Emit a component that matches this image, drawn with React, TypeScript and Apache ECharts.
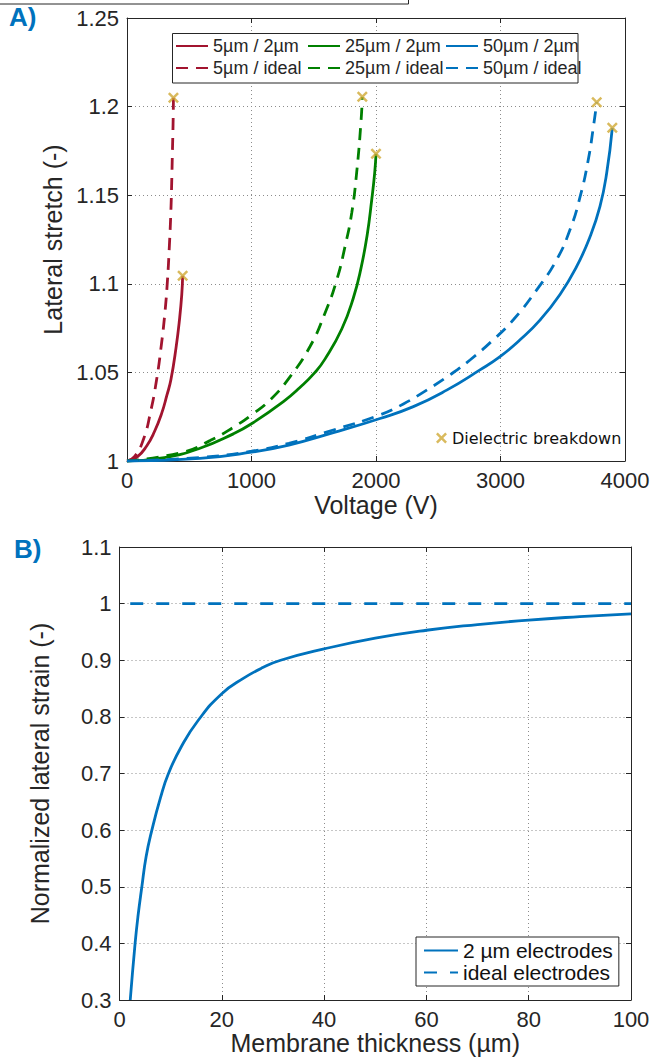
import React, { useEffect, useRef } from "react";
import * as echarts from "echarts";

// ---- Panel A data: voltage (V) vs lateral stretch (-) ----
const red2: [number, number][] = [
  [0, 1.0], [80, 1.0022], [158, 1.0085], [220, 1.0165], [279, 1.027], [320, 1.037],
  [353, 1.046], [394, 1.064], [422, 1.08], [440, 1.094], [447, 1.1045],
];
const redIdeal: [number, number][] = [
  [0, 1.0], [60, 1.0025], [131, 1.012], [190, 1.028], [238, 1.046], [275, 1.065],
  [305, 1.084], [325, 1.102], [340, 1.121], [352, 1.14], [359, 1.157], [365, 1.175],
  [370, 1.19], [373, 1.205],
];
const green2: [number, number][] = [
  [0, 1.0], [300, 1.0019], [586, 1.0072], [854, 1.0153], [1000, 1.021], [1256, 1.0335],
  [1389, 1.0415], [1510, 1.05], [1590, 1.0575], [1725, 1.0745], [1818, 1.092],
  [1880, 1.109], [1930, 1.128], [1965, 1.147], [1990, 1.163], [2000, 1.1734],
];
const greenIdeal: [number, number][] = [
  [0, 1.0], [452, 1.005], [667, 1.0115], [854, 1.019], [1000, 1.026], [1150, 1.0345],
  [1309, 1.0475], [1470, 1.0646], [1590, 1.0834], [1684, 1.102], [1751, 1.121],
  [1805, 1.14], [1845, 1.163], [1880, 1.192], [1890, 1.2055],
];
const blue2: [number, number][] = [
  [0, 1.0], [586, 1.0015], [1000, 1.005], [1300, 1.009], [1657, 1.016], [2032, 1.024],
  [2300, 1.0307], [2568, 1.04], [2835, 1.0514], [2996, 1.0589], [3157, 1.0684],
  [3317, 1.0795], [3478, 1.094], [3612, 1.1098], [3719, 1.1265], [3799, 1.1437],
  [3853, 1.1625], [3898, 1.188],
];
const blueIdeal: [number, number][] = [
  [0, 1.0], [586, 1.002], [1000, 1.0055], [1300, 1.01], [1657, 1.0175], [2032, 1.026],
  [2220, 1.0322], [2407, 1.04], [2594, 1.0486], [2755, 1.057], [2942, 1.0684],
  [3103, 1.0797], [3291, 1.0966], [3451, 1.1136], [3558, 1.1305], [3639, 1.149],
  [3705, 1.17], [3745, 1.188], [3773, 1.2024],
];
const breakdown: [number, number][] = [
  [373, 1.205], [447, 1.1045], [1890, 1.2055], [2000, 1.1734], [3773, 1.2024], [3898, 1.188],
];

// ---- Panel B data: membrane thickness (µm) vs normalized lateral strain (-) ----
const thickness = [2.1, 3.05, 3.6, 4.37, 5.2, 6.33, 8, 9.57, 12, 15.4, 20, 24.2, 28, 31.5, 40, 50, 60, 70, 80, 90, 100];
const strain2um = [0.3, 0.4, 0.447, 0.5, 0.553, 0.6, 0.657, 0.7, 0.746, 0.794, 0.841, 0.868, 0.887, 0.9, 0.92, 0.939, 0.953, 0.963, 0.971, 0.977, 0.982];
const idealThickness = [2.1, 100];
const idealStrain = [1, 1];

const COLORS = { red: "#A2142F", green: "#008000", blue: "#0072BD", gold: "#D0A934" };
const FONT = "'Liberation Sans', Arial, Helvetica, sans-serif";
const DARK = "#262626";

const fmt = (v: number) => String(parseFloat(v.toFixed(2)));

function mainAxis(extra: any) {
  return {
    axisLine: { show: true, lineStyle: { color: DARK, width: 1 } },
    axisTick: { show: true, inside: true, length: 5, lineStyle: { color: DARK } },
    axisLabel: { color: DARK, fontSize: 22, fontFamily: FONT, margin: 8, formatter: fmt },
    splitLine: { show: true, lineStyle: { color: "#8c8c8c", type: [1, 3], width: 1 } },
    nameTextStyle: { color: DARK, fontSize: 25, fontFamily: FONT },
    nameLocation: "middle",
    ...extra,
  };
}
function frameAxis(extra: any) {
  return {
    axisLine: { show: true, onZero: false, lineStyle: { color: DARK, width: 1 } },
    axisTick: { show: true, inside: true, length: 5, lineStyle: { color: DARK } },
    axisLabel: { show: false },
    splitLine: { show: false },
    ...extra,
  };
}

const crossPath =
  "path://M0,1.6L1.6,0L5,3.4L8.4,0L10,1.6L6.6,5L10,8.4L8.4,10L5,6.6L1.6,10L0,8.4L3.4,5Z";

const lineLegendBase = {
  orient: "vertical",
  top: 37,
  padding: 0,
  itemWidth: 32,
  itemHeight: 14,
  itemGap: 4,
  itemStyle: { color: "rgba(0,0,0,0)", borderWidth: 0 },
  textStyle: { fontSize: 18, color: DARK, fontFamily: FONT, lineHeight: 18 },
};

export default function App() {
  const ref = useRef<HTMLDivElement>(null);
  useEffect(() => {
    if (!ref.current) return;
    const chart = echarts.init(ref.current, null, { renderer: "svg" });
    const lineSeries = (name: string, data: any, color: string, dashed: boolean) => ({
      name,
      type: "line",
      xAxisIndex: 0,
      yAxisIndex: 0,
      data,
      showSymbol: false,
      symbol: "none",
      smooth: 0.5,
      lineStyle: { color, width: 2.8, type: dashed ? [12, 8] : "solid" },
      itemStyle: { color },
      z: 2,
    });
    const option: any = {
      animation: false,
      backgroundColor: "#fff",
      textStyle: { fontFamily: FONT },
      grid: [
        { left: 127, top: 18, width: 498, height: 443, containLabel: false },
        { left: 119.5, top: 547, width: 511.5, height: 453, containLabel: false },
      ],
      xAxis: [
        mainAxis({ type: "value", gridIndex: 0, min: 0, max: 4000, interval: 1000, name: "Voltage (V)", nameGap: 31, axisLabel: { color: DARK, fontSize: 22, fontFamily: FONT, margin: 8, formatter: (v: number) => String(v) } }),
        frameAxis({ type: "value", gridIndex: 0, position: "top", min: 0, max: 4000, interval: 1000 }),
        mainAxis({ type: "value", gridIndex: 1, min: 0, max: 100, interval: 20, name: "Membrane thickness (µm)", nameGap: 29, axisLabel: { color: DARK, fontSize: 22, fontFamily: FONT, margin: 8, formatter: (v: number) => String(v) } }),
        frameAxis({ type: "value", gridIndex: 1, position: "top", min: 0, max: 100, interval: 20 }),
      ],
      yAxis: [
        mainAxis({ type: "value", gridIndex: 0, min: 1, max: 1.25, interval: 0.05, name: "Lateral stretch (-)", nameGap: 60 }),
        frameAxis({ type: "value", gridIndex: 0, position: "right", min: 1, max: 1.25, interval: 0.05 }),
        mainAxis({ type: "value", gridIndex: 1, min: 0.3, max: 1.1, interval: 0.1, name: "Normalized lateral strain (-)", nameGap: 67 }),
        frameAxis({ type: "value", gridIndex: 1, position: "right", min: 0.3, max: 1.1, interval: 0.1 }),
      ],
      legend: [
        { ...lineLegendBase, data: ["5µm / 2µm", "5µm / ideal"], left: 175 },
        { ...lineLegendBase, data: ["25µm / 2µm", "25µm / ideal"], left: 307 },
        { ...lineLegendBase, data: ["50µm / 2µm", "50µm / ideal"], left: 445 },
        {
          data: ["Dielectric breakdown"], left: 436, top: 430, padding: 0,
          itemWidth: 11, itemHeight: 11,
          textStyle: { fontSize: 16, color: "#111", fontFamily: "'DejaVu Sans', sans-serif", lineHeight: 16 },
        },
        {
          data: ["2 µm electrodes", "ideal electrodes"], orient: "vertical", left: 416, top: 937,
          padding: [3, 6, 3, 7], itemWidth: 34, itemHeight: 14, itemGap: 1,
          backgroundColor: "#fff", borderColor: DARK, borderWidth: 1,
          itemStyle: { color: "rgba(0,0,0,0)", borderWidth: 0 },
          textStyle: { fontSize: 21, color: "#111", fontFamily: FONT, lineHeight: 21 },
        },
      ],
      graphic: [
        { type: "rect", z: 3, shape: { x: 172.5, y: 33.5, width: 405.5, height: 49.5 }, style: { fill: "#fff", stroke: DARK, lineWidth: 1 } },
        { type: "rect", z: 3, shape: { x: -2, y: -10, width: 410.5, height: 14 }, style: { fill: "none", stroke: DARK, lineWidth: 1 } },
        { type: "text", z: 5, x: 9, y: 4, style: { text: "A)", fill: COLORS.blue, font: `bold 26px ${FONT}` } },
        { type: "text", z: 5, x: 14, y: 536, style: { text: "B)", fill: COLORS.blue, font: `bold 26px ${FONT}` } },
      ],
      series: [
        lineSeries("5µm / 2µm", red2, COLORS.red, false),
        lineSeries("25µm / 2µm", green2, COLORS.green, false),
        lineSeries("50µm / 2µm", blue2, COLORS.blue, false),
        lineSeries("5µm / ideal", redIdeal, COLORS.red, true),
        lineSeries("25µm / ideal", greenIdeal, COLORS.green, true),
        lineSeries("50µm / ideal", blueIdeal, COLORS.blue, true),
        {
          name: "Dielectric breakdown",
          type: "scatter",
          xAxisIndex: 0,
          yAxisIndex: 0,
          data: breakdown,
          symbol: crossPath,
          symbolSize: 11,
          itemStyle: { color: COLORS.gold },
          z: 5,
        },
        {
          name: "2 µm electrodes",
          type: "line",
          xAxisIndex: 2,
          yAxisIndex: 2,
          data: thickness.map((t, i) => [t, strain2um[i]]),
          showSymbol: false,
          symbol: "none",
          smooth: 0.5,
          lineStyle: { color: COLORS.blue, width: 2.8 },
          itemStyle: { color: COLORS.blue },
        },
        {
          name: "ideal electrodes",
          type: "line",
          xAxisIndex: 2,
          yAxisIndex: 2,
          data: idealThickness.map((t, i) => [t, idealStrain[i]]),
          showSymbol: false,
          symbol: "none",
          lineStyle: { color: COLORS.blue, width: 2.8, type: [13, 13] },
          itemStyle: { color: COLORS.blue },
        },
      ],
    };
    chart.setOption(option);
    return () => chart.dispose();
  }, []);
  return (
    <div
      ref={ref}
      style={{ position: "fixed", left: 0, top: 0, width: 665, height: 1059, background: "#fff" }}
    />
  );
}
